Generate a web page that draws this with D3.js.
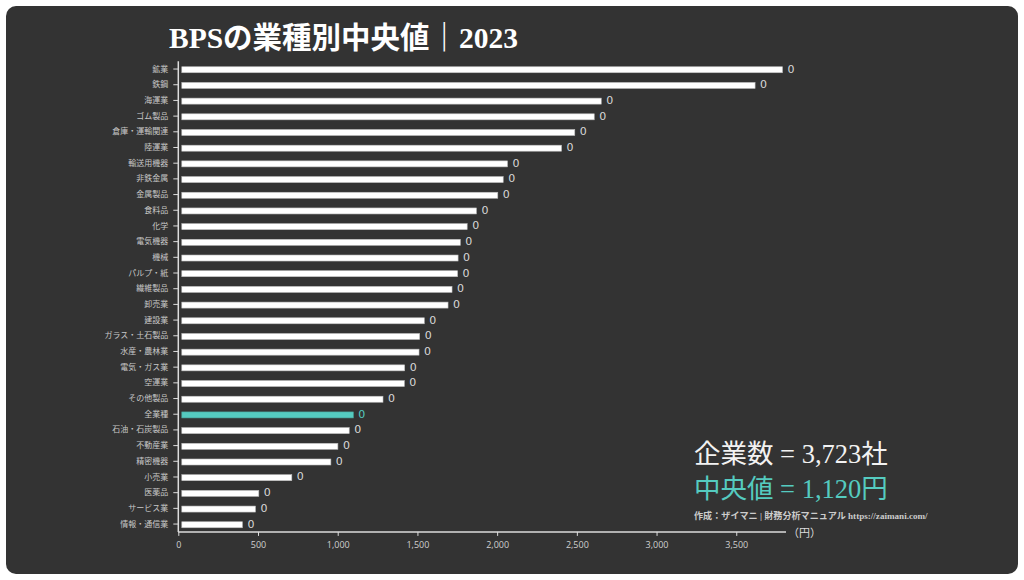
<!DOCTYPE html>
<html><head><meta charset="utf-8">
<script src="https://cdn.jsdelivr.net/npm/d3@7"></script>
<style>
html,body{margin:0;padding:0;background:#fff;}
svg{display:block;}
</style></head>
<body>
<svg id="chart" width="1024" height="580"></svg>
<script>
const categories = ["鉱業","鉄鋼","海運業","ゴム製品","倉庫・運輸関連","陸運業","輸送用機器","非鉄金属","金属製品","食料品","化学","電気機器","機械","パルプ・紙","繊維製品","卸売業","建設業","ガラス・土石製品","水産・農林業","電気・ガス業","空運業","その他製品","全業種","石油・石炭製品","不動産業","精密機器","小売業","医薬品","サービス業","情報・通信業"];
const values = [3812,3640,2675,2631,2509,2426,2087,2060,2026,1892,1834,1791,1777,1774,1739,1714,1565,1536,1532,1442,1440,1306,1120,1094,1023,979,734,527,506,424];
const valueLabels = ["0","0","0","0","0","0","0","0","0","0","0","0","0","0","0","0","0","0","0","0","0","0","0","0","0","0","0","0","0","0"];
const xTicks = [0,500,1000,1500,2000,2500,3000,3500];
const highlight = "全業種";
const titleText = "BPSの業種別中央値｜2023";
const companiesText = "企業数 = 3,723社";
const medianText = "中央値 = 1,120円";
const sourceText = "作成：ザイマニ | 財務分析マニュアル https://zaimani.com/";
const unitText = "（円）";

const TEAL = "#55cbc0";
const svg = d3.select("#chart");
const serif = "'Liberation Serif','DejaVu Serif','Noto Sans CJK JP',serif";
const sans = "'Noto Sans CJK JP','Noto Sans',sans-serif";

svg.append("rect").attr("x",6).attr("y",6).attr("width",1012).attr("height",568)
  .attr("rx",10).attr("fill","#333333");

const x = d3.scaleLinear().domain([0, d3.max(values)]).range([178.3, 786]);
const y = d3.scaleBand().domain(categories).range([61.2, 531.9]).padding(0);
const inset = 3.5;

const data = categories.map((c,i)=>({c, v: values[i], l: valueLabels[i]}));

// bars
svg.append("g").selectAll("rect").data(data).join("rect")
  .attr("x", x(0)+inset)
  .attr("y", d => y(d.c)+y.bandwidth()/2-2.3)
  .attr("width", d => Math.max(0, x(d.v)-x(0)-2*inset))
  .attr("height", 6)
  .attr("fill", d => d.c===highlight ? TEAL : "#ffffff")
  .attr("stroke", d => d.c===highlight ? "#4aa69c" : "#bdbdbd")
  .attr("stroke-width", 0.6);

// value labels
svg.append("g").selectAll("text").data(data).join("text")
  .attr("x", d => x(d.v)+1.5)
  .attr("y", d => y(d.c)+y.bandwidth()/2+0.5)
  .attr("dominant-baseline","middle")
  .attr("font-family","'DejaVu Sans',sans-serif")
  .attr("font-size",11)
  .attr("fill", d => d.c===highlight ? TEAL : "#d8d8d8")
  .text(d => d.l);

// y axis
const gy = svg.append("g").attr("transform",`translate(${x(0)},0)`)
  .call(d3.axisLeft(y).tickSize(5).tickPadding(5));
gy.select(".domain").attr("stroke","#dddddd").attr("stroke-width",1.5).attr("d",`M0,${y.range()[0]}V${y.range()[1]}`);
gy.selectAll(".tick line").attr("stroke","#dddddd");
gy.selectAll(".tick text").attr("font-family",sans).attr("font-size",8).attr("fill","#c8c8c8");

// x axis
const gx = svg.append("g").attr("transform",`translate(0,${y.range()[1]})`)
  .call(d3.axisBottom(x).tickValues(xTicks).tickFormat(d3.format(",")).tickSize(4).tickPadding(6));
gx.select(".domain").attr("stroke","#dddddd").attr("stroke-width",1.5).attr("d",`M${x.range()[0]},0H${x.range()[1]}`);
gx.selectAll(".tick line").attr("stroke","#dddddd");
gx.selectAll(".tick text").attr("font-family","'Open Sans','DejaVu Sans',sans-serif").attr("font-size",9).attr("fill","#cfcfcf");

// unit
svg.append("text").attr("x",x.range()[1]+2).attr("y",y.range()[1]+5)
  .attr("font-family",sans).attr("font-size",11).attr("fill","#dddddd").text(unitText);

// title
svg.append("text").attr("x",169).attr("y",48)
  .attr("font-family",serif).attr("font-size",29.5).attr("font-weight","bold").attr("fill","#ffffff")
  .text(titleText);

// annotations
svg.append("text").attr("x",694).attr("y",463)
  .attr("font-family",serif).attr("font-size",26.5).attr("fill","#f2f2f2").text(companiesText);
svg.append("text").attr("x",694).attr("y",498)
  .attr("font-family",serif).attr("font-size",26.5).attr("fill",TEAL).text(medianText);
svg.append("text").attr("x",694).attr("y",519)
  .attr("font-family",serif).attr("font-size",9.1).attr("font-weight","bold").attr("fill","#cccccc").text(sourceText);
</script>
</body></html>
